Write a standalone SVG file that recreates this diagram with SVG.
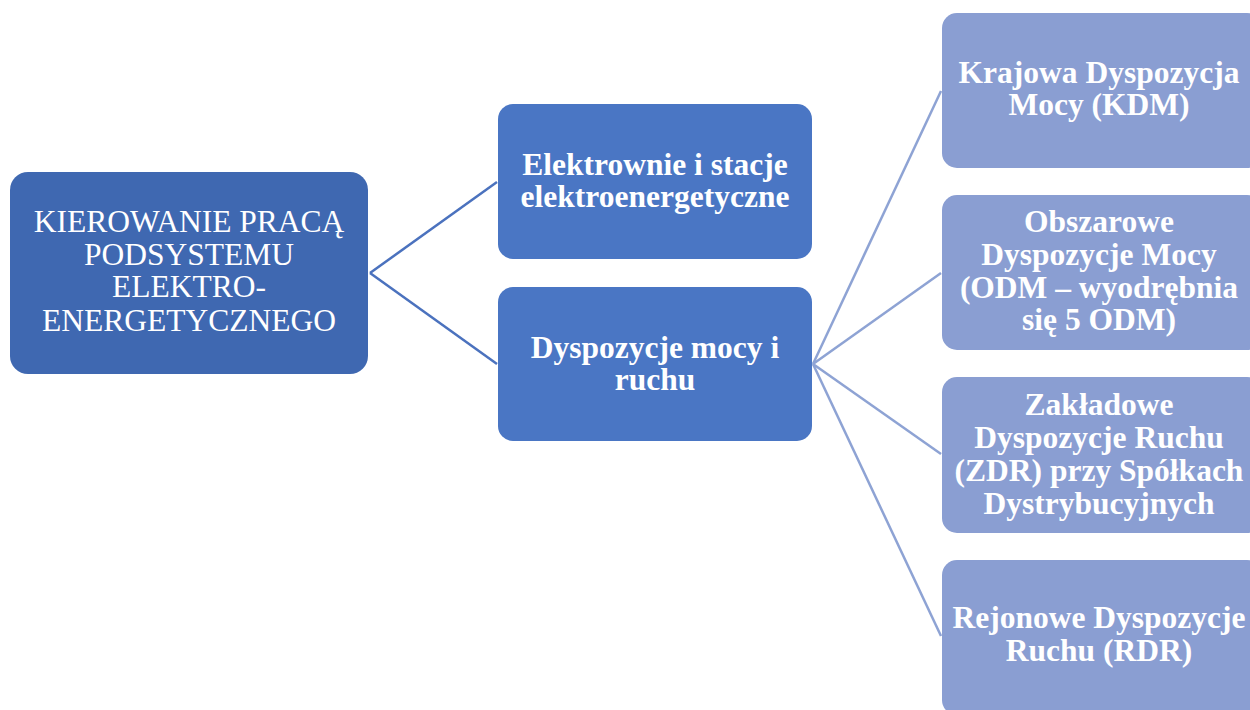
<svg xmlns="http://www.w3.org/2000/svg" width="1250" height="710" viewBox="0 0 1250 710">
<style>
.t{font-family:"Liberation Serif","Times New Roman",serif;fill:#fff;text-anchor:middle;font-size:31.5px}
.b{font-weight:bold}
.root{fill:#3F68B1}
.mid{fill:#4A76C4}
.leaf{fill:#8A9ED2}
.c1{stroke:#4B72BE;stroke-width:2.5;fill:none}
.c2{stroke:#8EA3D4;stroke-width:2.5;fill:none}
</style>
<rect width="1250" height="710" fill="#fff"/>
<g id="connectors">
<line class="c1" x1="370" y1="273" x2="497" y2="182"/>
<line class="c1" x1="370" y1="273" x2="497" y2="364"/>
<line class="c2" x1="813" y1="364" x2="941" y2="91"/>
<line class="c2" x1="813" y1="364" x2="941" y2="273"/>
<line class="c2" x1="813" y1="364" x2="941" y2="454"/>
<line class="c2" x1="813" y1="364" x2="941" y2="636"/>
</g>
<g id="root">
<rect class="root" x="10" y="172" width="358" height="202" rx="18"/>
<text class="t"><tspan x="189" y="232">KIEROWANIE PRACĄ</tspan><tspan x="189" y="265">PODSYSTEMU</tspan><tspan x="189" y="297">ELEKTRO-</tspan><tspan x="189" y="331">ENERGETYCZNEGO</tspan></text>
</g>
<g id="elektrownie">
<rect class="mid" x="498" y="104" width="314" height="155" rx="15"/>
<text class="t b"><tspan x="655" y="175">Elektrownie i stacje</tspan><tspan x="655" y="207">elektroenergetyczne</tspan></text>
</g>
<g id="dyspozycje">
<rect class="mid" x="498" y="287" width="314" height="154" rx="15"/>
<text class="t b"><tspan x="655" y="358">Dyspozycje mocy i</tspan><tspan x="655" y="390">ruchu</tspan></text>
</g>
<g id="kdm">
<rect class="leaf" x="942" y="13" width="320" height="155" rx="15"/>
<text class="t b"><tspan x="1099" y="83">Krajowa Dyspozycja</tspan><tspan x="1099" y="115">Mocy (KDM)</tspan></text>
</g>
<g id="odm">
<rect class="leaf" x="942" y="195" width="320" height="155" rx="15"/>
<text class="t b"><tspan x="1099" y="232">Obszarowe</tspan><tspan x="1099" y="265">Dyspozycje Mocy</tspan><tspan x="1099" y="298">(ODM – wyodrębnia</tspan><tspan x="1099" y="330">się 5 ODM)</tspan></text>
</g>
<g id="zdr">
<rect class="leaf" x="942" y="377" width="320" height="156" rx="15"/>
<text class="t b"><tspan x="1099" y="415">Zakładowe</tspan><tspan x="1099" y="448">Dyspozycje Ruchu</tspan><tspan x="1099" y="481">(ZDR) przy Spółkach</tspan><tspan x="1099" y="514">Dystrybucyjnych</tspan></text>
</g>
<g id="rdr">
<rect class="leaf" x="942" y="560" width="320" height="155" rx="15"/>
<text class="t b"><tspan x="1099" y="628">Rejonowe Dyspozycje</tspan><tspan x="1099" y="661">Ruchu (RDR)</tspan></text>
</g>
</svg>
